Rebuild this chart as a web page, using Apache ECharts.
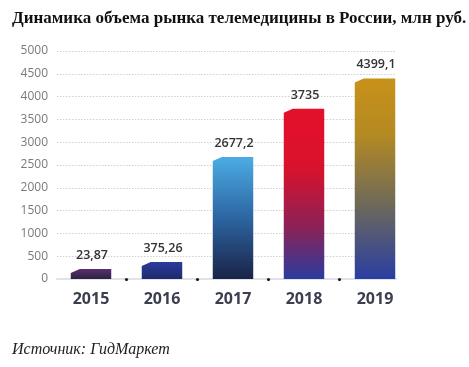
<!DOCTYPE html>
<html>
<head>
<meta charset="utf-8">
<script src="https://cdn.jsdelivr.net/npm/echarts@6/dist/echarts.min.js"></script>
<style>
html,body{margin:0;padding:0;background:#fff;}
#c{width:469px;height:367px;}
</style>
</head>
<body>
<div id="c"></div>
<script>
var titleText = 'Динамика объема рынка телемедицины в России, млн руб.';
var sourceText = 'Источник: ГидМаркет';
var years = ['2015', '2016', '2017', '2018', '2019'];
var values = [23.87, 375.26, 2677.2, 3735, 4399.1];
var yTicks = [0, 500, 1000, 1500, 2000, 2500, 3000, 3500, 4000, 4500, 5000];

var gradients = [
  [[0, '#5d2e70'], [1, '#2a2340']],
  [[0, '#2b3c9e'], [1, '#1d2a6c']],
  [[0, '#4cace4'], [0.5, '#2c65a2'], [1, '#1a2346']],
  [[0, '#e5102a'], [0.35, '#d8122c'], [0.7, '#8a2258'], [1, '#2b3c9e']],
  [[0, '#c8911a'], [0.28, '#b48a22'], [0.62, '#706a58'], [1, '#2a3ea2']]
];

var chart = echarts.init(document.getElementById('c'), null, {renderer: 'canvas'});

function fmt(v) { return String(v).replace('.', ','); }

var option = {
  backgroundColor: '#fff',
  animation: false,
  title: [
    {text: titleText, left: 7, top: 5,
     textStyle: {fontFamily: 'Liberation Serif', fontWeight: 'bold', fontSize: 17, color: '#111'}},
    {text: sourceText, left: 7, top: 337,
     textStyle: {fontFamily: 'Liberation Serif', fontStyle: 'italic', fontWeight: 'normal', fontSize: 16, color: '#222'}}
  ],
  grid: [
    {left: 57, width: 339, top: 51, height: 228},
    {left: 55.5, width: 355, top: 51, height: 228}
  ],
  xAxis: [
    {type: 'category', gridIndex: 0, data: years,
     axisLine: {show: true, lineStyle: {color: '#dfe2ea', width: 2}},
     axisTick: {show: false}, axisLabel: {show: false}, splitLine: {show: false}},
    {type: 'category', gridIndex: 1, data: years,
     axisLine: {show: false},
     axisTick: {show: false},
     axisLabel: {show: true, interval: 0, margin: 12, fontFamily: 'Open Sans', fontWeight: 'bold', fontSize: 16, color: '#3a3e4e'}}
  ],
  yAxis: [
    {type: 'value', gridIndex: 0, min: yTicks[0], max: yTicks[yTicks.length - 1], interval: 500,
     axisLine: {show: false}, axisTick: {show: false},
     axisLabel: {margin: 9, fontFamily: 'Open Sans', fontSize: 12, color: '#7a7a7a',
                 formatter: function (v) { return String(v); }},
     splitLine: {show: true, lineStyle: {color: '#d0d0d0', type: [1.5, 1.5], width: 1}}},
    {type: 'value', gridIndex: 1, min: yTicks[0], max: yTicks[yTicks.length - 1], interval: 500,
     show: false}
  ],
  series: [{
    type: 'custom',
    xAxisIndex: 1, yAxisIndex: 1,
    data: values.map(function (v, i) { return [i, v]; }),
    renderItem: function (params, api) {
      var idx = api.value(0);
      var val = api.value(1);
      var top = api.coord([idx, val]);
      var base = api.coord([idx, 0]);
      var band = api.size([1, 0])[0];
      var w = band * 0.57;
      var x0 = top[0] - w / 2, x1 = top[0] + w / 2;
      var yb = base[1];
      var yt = Math.min(top[1], yb - 10);
      var cw = 9, ch = 4;
      var g = gradients[params.dataIndex];
      var children = [
        {type: 'polygon',
         shape: {points: [[x0, yt + ch], [x0 + cw, yt], [x1, yt], [x1, yb], [x0, yb]]},
         style: {fill: new echarts.graphic.LinearGradient(0, 0, 0, 1, g.map(function (s) { return {offset: s[0], color: s[1]}; }))}},
        {type: 'text',
         style: {text: fmt(val), x: top[0] + 1, y: yt - 7, align: 'center', verticalAlign: 'bottom',
                 font: '600 12.5px "Open Sans"', fill: '#333'}}
      ];
      if (params.dataIndex < values.length - 1) {
        children.push({type: 'circle', shape: {cx: top[0] + band / 2, cy: yb + 0.5, r: 1.6},
                       style: {fill: '#1a1a1a'}});
      }
      return {type: 'group', children: children};
    }
  }]
};
chart.setOption(option);
</script>
</body>
</html>
